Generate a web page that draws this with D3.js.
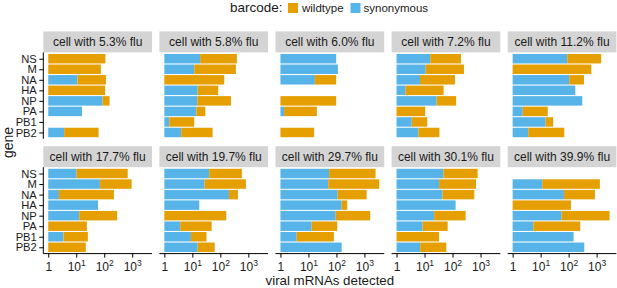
<!DOCTYPE html>
<html>
<head>
<meta charset="utf-8">
<script src="https://cdn.jsdelivr.net/npm/d3@7"></script>
<style>
  html, body { margin: 0; padding: 0; background: #fff; }
  svg { display: block; font-family: "Liberation Sans", Arial, sans-serif; }
</style>
</head>
<body>
<svg id="chart" width="617" height="288"></svg>
<script>
// ---- data ----
const genes = ["NS", "M", "NA", "HA", "NP", "PA", "PB1", "PB2"];
const cellPercents = ["5.3", "5.8", "6.0", "7.2", "11.2", "17.7", "19.7", "29.7", "30.1", "39.9"];
// end of the synonymous (blue) segment, per cell, per gene (0 = none)
const synonymous5_3  = [0, 0, 11, 0, 87, 16, 0, 3.7];
const synonymous5_8  = [19, 11.7, 0, 15.5, 15, 14, 1.5, 4];
const synonymous6_0  = [98, 113, 17, 0, 0, 1.35, 0, 0];
const synonymous7_2  = [16, 11, 6.9, 2.1, 27, 0, 3.5, 6];
const synonymous11_2 = [89, 0, 105, 173, 307, 2.3, 15, 3.6];
const synonymous17_7 = [10.3, 70, 2.4, 60, 12.8, 0, 3.5, 0];
const synonymous19_7 = [40, 27.5, 203, 17.7, 0, 3.7, 8.9, 15.5];
const synonymous29_7 = [55, 51, 110, 154, 94, 13, 3.8, 154];
const synonymous30_1 = [47, 33, 44, 129, 22, 8.5, 0, 7];
const synonymous39_9 = [0, 11.4, 68, 0, 56, 5.5, 150, 362];
// end of the whole bar (wildtype, orange, stacked after synonymous)
const total5_3  = [110, 76, 115, 107, 155, 16, 0, 63];
const total5_8  = [390, 360, 138, 84, 240, 29, 11.7, 53];
const total6_0  = [98, 113, 98, 0, 98, 20, 0, 16];
const total7_2  = [200, 256, 122, 48, 135, 10.6, 12.5, 34];
const total11_2 = [1450, 645, 353, 173, 307, 18, 28, 70];
const total17_7 = [690, 950, 222, 60, 290, 24, 26, 22];
const total19_7 = [590, 820, 425, 17.7, 163, 49, 32, 63];
const total29_7 = [2500, 3390, 1200, 243, 1610, 107, 81, 154];
const total30_1 = [790, 690, 600, 129, 294, 67, 33, 60];
const total39_9 = [0, 1310, 870, 121, 2900, 260, 150, 362];
const xTicks = [1, 10, 100, 1000];
const barcodes = ["wildtype", "synonymous"];
const colors = {wildtype: "#E69F00", synonymous: "#56B4E9"};

const synList = [synonymous5_3, synonymous5_8, synonymous6_0, synonymous7_2, synonymous11_2,
                 synonymous17_7, synonymous19_7, synonymous29_7, synonymous30_1, synonymous39_9];
const totList = [total5_3, total5_8, total6_0, total7_2, total11_2,
                 total17_7, total19_7, total29_7, total30_1, total39_9];

// ---- layout ----
const svg = d3.select("#chart");
const nCol = 5;
const panelLeft0 = 43.3, panelW = 108.7, panelGap = 7.4;
const stripH = 21;
const rowTops = [52.4, 167.2];   // panel tops
const panelH = 86.4;
const textCol = "#1a1a1a";

const maxLog = Math.log10(d3.max(totList.flat()));
const x = d3.scaleLog()
  .domain([Math.pow(10, -0.05 * maxLog), Math.pow(10, 1.05 * maxLog)])
  .range([0, panelW]);
const y = d3.scalePoint().domain(genes).range([0, panelH]).padding(0.6);
const barH = 0.9 * y.step();

cellPercents.forEach((pct, i) => {
  const col = i % nCol, row = Math.floor(i / nCol);
  const px = panelLeft0 + col * (panelW + panelGap);
  const py = rowTops[row];
  const g = svg.append("g").attr("transform", `translate(${px},${py})`);

  // strip
  g.append("rect").attr("x", 0).attr("y", -stripH).attr("width", panelW).attr("height", stripH)
    .attr("fill", "#D4D4D4");
  g.append("text").attr("x", panelW / 2).attr("y", -stripH / 2).attr("dy", "0.36em")
    .attr("text-anchor", "middle").attr("font-size", 12).attr("fill", textCol)
    .text(`cell with ${pct}% flu`);

  const syn = synList[i], tot = totList[i];
  const rows = genes.map((gname, k) => ({gene: gname, syn: syn[k], tot: tot[k]}));

  // synonymous segment
  g.selectAll(".syn").data(rows.filter(d => d.syn > 1)).join("rect")
    .attr("x", x(1)).attr("width", d => x(d.syn) - x(1))
    .attr("y", d => y(d.gene) - barH / 2).attr("height", barH)
    .attr("fill", colors.synonymous);
  // wildtype segment
  g.selectAll(".wt").data(rows.filter(d => d.tot > Math.max(d.syn, 1))).join("rect")
    .attr("x", d => x(Math.max(d.syn, 1))).attr("width", d => x(d.tot) - x(Math.max(d.syn, 1)))
    .attr("y", d => y(d.gene) - barH / 2).attr("height", barH)
    .attr("fill", colors.wildtype);

  // y axis (first column)
  if (col === 0) {
    const ya = g.append("g").call(d3.axisLeft(y).tickSize(4).tickPadding(2.5));
    ya.select(".domain").attr("d", `M0,0V${panelH}`).attr("stroke", "#000").attr("stroke-width", 1);
    ya.selectAll(".tick line").attr("stroke", "#000");
    ya.selectAll("text").attr("font-size", 11.2).attr("fill", textCol)
      .attr("font-family", "Liberation Sans, Arial, sans-serif");
  }
  // x axis (bottom row)
  if (row === 1) {
    const xa = g.append("g").attr("transform", `translate(0,${panelH})`)
      .call(d3.axisBottom(x).tickValues(xTicks).tickSize(4).tickPadding(4).tickFormat(() => ""));
    xa.select(".domain").attr("d", `M0,0H${panelW}`).attr("stroke", "#000").attr("stroke-width", 1);
    xa.selectAll(".tick line").attr("stroke", "#000");
    xa.selectAll(".tick text").each(function(v) {
      const t = d3.select(this).attr("font-size", 12).attr("fill", textCol)
        .attr("font-family", "Liberation Sans, Arial, sans-serif")
        .attr("y", 17.3).attr("dy", 0);
      const e = Math.round(Math.log10(v));
      if (e === 0) { t.text("1"); }
      else {
        t.append("tspan").text("10");
        t.append("tspan").attr("font-size", 8.5).attr("dy", -5).text(String(e));
      }
    });
  }
});

// axis titles
svg.append("text").attr("x", panelLeft0 + (nCol * panelW + (nCol - 1) * panelGap) / 2).attr("y", 285.3)
  .attr("text-anchor", "middle").attr("font-size", 13.3).attr("fill", textCol).text("viral mRNAs detected");
svg.append("text").attr("transform", `translate(12.5,${(rowTops[0] - stripH + rowTops[1] + panelH) / 2}) rotate(-90)`)
  .attr("text-anchor", "middle").attr("font-size", 14).attr("fill", textCol).text("gene");

// legend
const leg = svg.append("g");
leg.append("text").attr("x", 230).attr("y", 12).attr("font-size", 13.5).attr("fill", textCol).text("barcode:");
const keyX = [288, 350.5], labX = [302, 363.5];
barcodes.forEach((b, k) => {
  leg.append("rect").attr("x", keyX[k]).attr("y", 3).attr("width", 10).attr("height", 10).attr("fill", colors[b]);
  leg.append("text").attr("x", labX[k]).attr("y", 11.5).attr("font-size", 11.5).attr("fill", textCol).text(b);
});
</script>
</body>
</html>
